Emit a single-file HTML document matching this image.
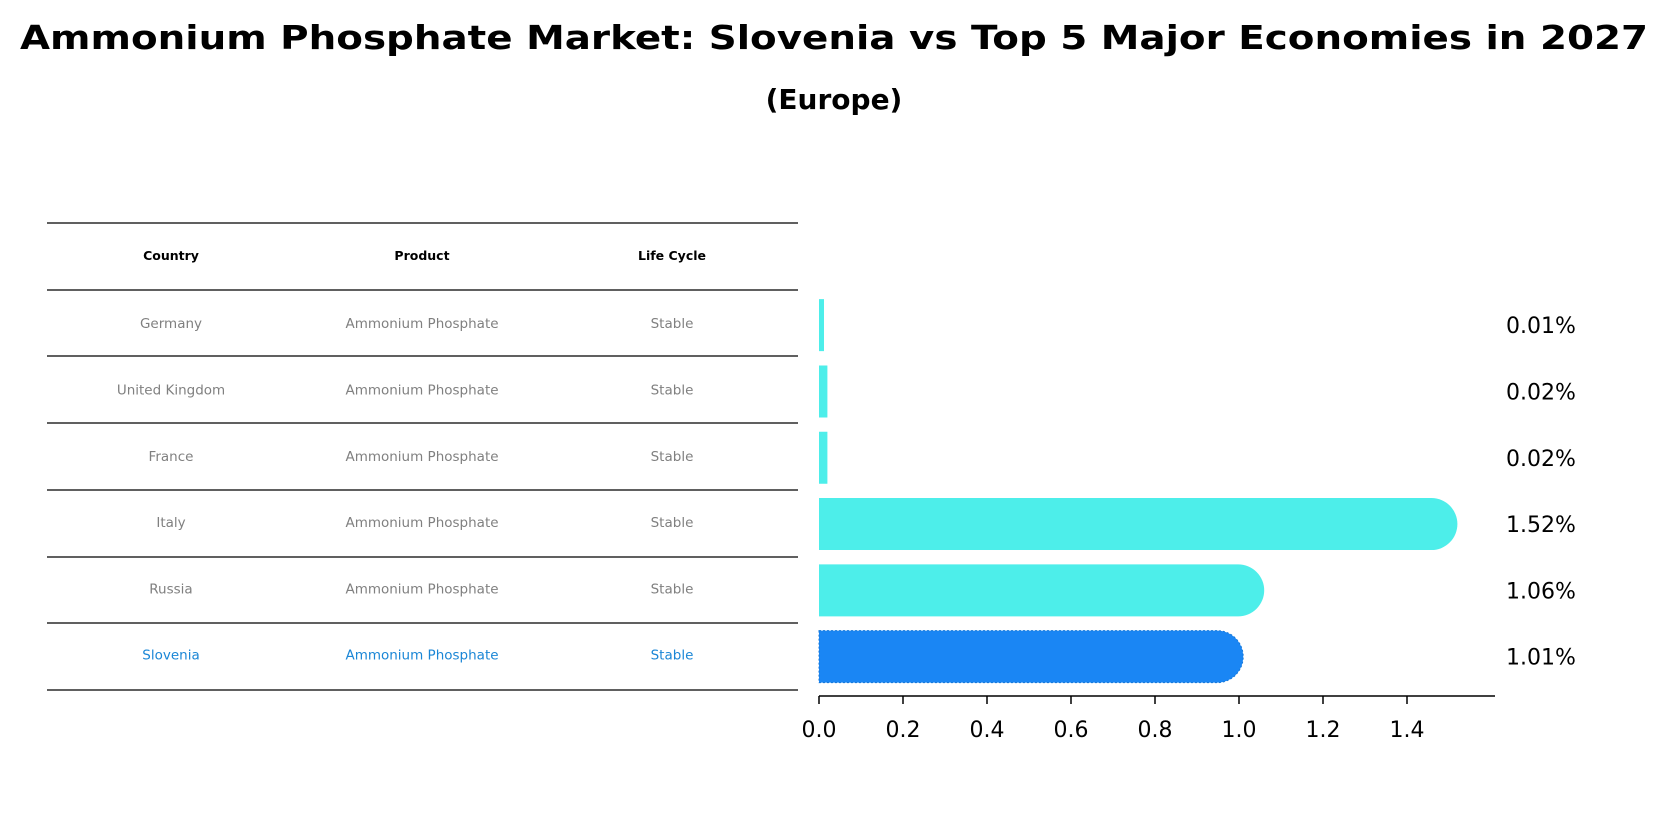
<!DOCTYPE html>
<html><head><meta charset="utf-8"><style>
body{margin:0;background:#fff;}
svg{display:block;font-family:"DejaVu Sans","Liberation Sans",sans-serif;}
</style></head><body>
<svg id="chart" width="1668" height="823" viewBox="0 0 1668 823">
<text x="834" y="49" text-anchor="middle" font-size="33" font-weight="bold" textLength="1628" lengthAdjust="spacingAndGlyphs">Ammonium Phosphate Market: Slovenia vs Top 5 Major Economies in 2027</text>
<text x="834" y="109" text-anchor="middle" font-size="28" font-weight="bold">(Europe)</text>
<g id="table"></g>
<g id="bars"></g>
</svg>
<script>
const countries=["Germany","United Kingdom","France","Italy","Russia","Slovenia"];
const products=["Ammonium Phosphate","Ammonium Phosphate","Ammonium Phosphate","Ammonium Phosphate","Ammonium Phosphate","Ammonium Phosphate"];
const lifeCycles=["Stable","Stable","Stable","Stable","Stable","Stable"];
const values=[0.01,0.02,0.02,1.52,1.06,1.01];
const tickValues=[0,0.2,0.4,0.6,0.8,1.0,1.2,1.4];
const tickLabels=["0.0","0.2","0.4","0.6","0.8","1.0","1.2","1.4"];

const NS="http://www.w3.org/2000/svg";
function mk(tag,attrs,parent,text){const e=document.createElementNS(NS,tag);for(const k in attrs)e.setAttribute(k,attrs[k]);if(text!==undefined)e.textContent=text;parent.appendChild(e);return e;}
const x0=819,pxPerUnit=420;
function xs(v){return x0+v*pxPerUnit;}
const rowTop=290,rowH=66.3;
function rowC(i){return rowTop+rowH*(i+0.5);}

const table=document.getElementById('table');
const lineYs=[223,290,356,423,490,557,623,690];
lineYs.forEach((y,i)=>{const l=mk('line',{x1:47,x2:798,y1:y,y2:y,stroke:'#000','stroke-width':1.2},table);

});
const colX=[171,422,672];
["Country","Product","Life Cycle"].forEach((h,j)=>{const t=mk('text',{x:colX[j],y:260,'text-anchor':'middle','font-size':12.5,'font-weight':'bold'},table,h);

});
countries.forEach((c,i)=>{const col=i===countries.length-1?'#1a86d6':'#808080';
[c,products[i],lifeCycles[i]].forEach((txt,j)=>{const t=mk('text',{x:colX[j],y:rowC(i)+5,'text-anchor':'middle','font-size':13.5,fill:col},table,txt);

});});

const bars=document.getElementById('bars');
const bh=52;
values.forEach((v,i)=>{const cy=rowC(i)+2,y=cy-bh/2;const w=Math.max(xs(v)-x0,5);
const r=Math.min(bh/2,w/2>bh/2?bh/2:0);
const isSl=i===values.length-1;
const d=`M${x0},${y} H${x0+w-r} A${r},${r} 0 0 1 ${x0+w-r},${y+bh} H${x0} Z`;
const p=mk('path',{d:d,fill:isSl?'#1a86f4':'#4deeea',stroke:isSl?'#1577d8':'none','stroke-dasharray':isSl?'2,2':'','stroke-width':1},bars);


const t=mk('text',{x:1506,y:cy+8,'font-size':22},bars,v.toFixed(2)+'%');

});
const ax=mk('line',{x1:x0,x2:1495,y1:696,y2:696,stroke:'#000','stroke-width':1.5},bars);


tickValues.forEach((v,i)=>{const tk=mk('line',{x1:xs(v),x2:xs(v),y1:696,y2:704,stroke:'#000','stroke-width':1.5},bars);


const t=mk('text',{x:xs(v),y:737,'text-anchor':'middle','font-size':22},bars,tickLabels[i]);

});
</script>
</body></html>
